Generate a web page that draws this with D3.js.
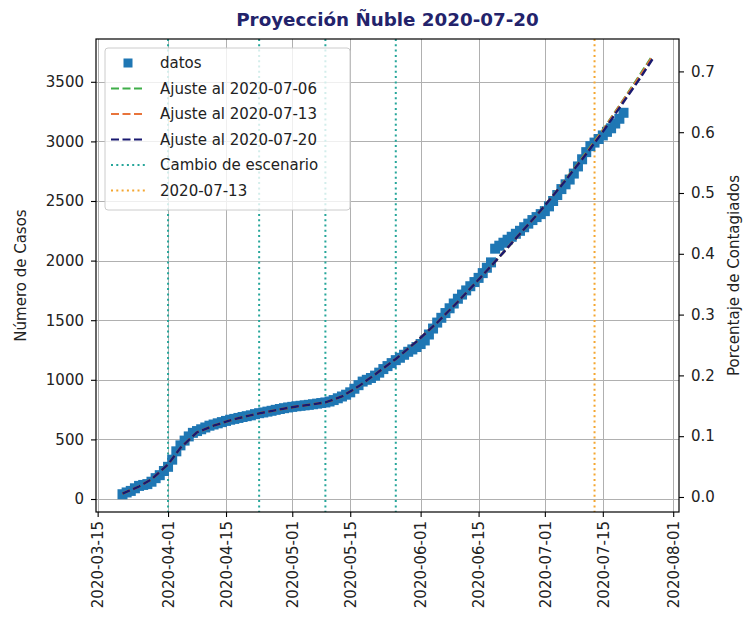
<!DOCTYPE html>
<html>
<head>
<meta charset="utf-8">
<script src="https://cdn.jsdelivr.net/npm/d3@7"></script>
<style>
  body { margin: 0; background: #fff; }
  svg { display: block; }
  text { font-family: "DejaVu Sans", sans-serif; fill: #222; }
</style>
</head>
<body>
<svg id="chart" width="744" height="633"></svg>
<script>
// casos diarios acumulados, uno por dia desde inicioDatos
var inicioDatos = "2020-03-21";
var casos = [
  40, 55, 68, 90, 110, 118, 125, 145, 175, 200, 235,          // 03-21 .. 03-31
  270, 330, 400, 450, 490, 525, 555, 570, 585, 600,           // 04-01 .. 04-10
  615, 625, 635, 645, 655, 665, 672, 680, 688, 695,           // 04-11 .. 04-20
  702, 712, 720, 726, 733, 740, 748, 755, 762, 768,           // 04-21 .. 04-30
  773, 778, 782, 786, 790, 795, 800, 805, 810, 818,           // 05-01 .. 05-10
  830, 845, 860, 875, 895, 925, 955, 985, 1000, 1015,         // 05-11 .. 05-20
  1035, 1060, 1090, 1115, 1140, 1165, 1185, 1210, 1235, 1255, 1275, // 05-21 .. 05-31
  1300, 1330, 1380, 1430, 1480, 1520, 1560, 1600, 1640, 1680, // 06-01 .. 06-10
  1715, 1750, 1785, 1820, 1855, 1895, 1940, 1985, 2100, 2125, // 06-11 .. 06-20
  2150, 2175, 2200, 2225, 2250, 2280, 2310, 2340, 2365, 2390, // 06-21 .. 06-30
  2415, 2455, 2500, 2550, 2600, 2640, 2680, 2730, 2790, 2850, // 07-01 .. 07-10
  2910, 2960, 2990, 3020, 3050, 3080, 3110, 3150, 3190, 3240  // 07-11 .. 07-20
];

var fitFechas = ["2020-03-21","2020-03-25","2020-03-28","2020-04-01","2020-04-04","2020-04-08",
  "2020-04-12","2020-04-16","2020-04-20","2020-04-23","2020-04-28","2020-05-02","2020-05-06",
  "2020-05-09","2020-05-13","2020-05-17","2020-05-21","2020-05-26","2020-05-31","2020-06-05",
  "2020-06-10","2020-06-15","2020-06-20","2020-06-25","2020-06-30","2020-07-05","2020-07-10",
  "2020-07-15","2020-07-20","2020-07-24","2020-07-27"];
var ajuste0706 = [45,105,165,290,430,560,615,660,695,718,752,776,795,810,860,945,1045,1175,1320,1480,
  1655,1840,2030,2225,2420,2635,2860,3095,3350,3560,3720];
var ajuste0713 = [45,105,165,290,430,560,615,660,695,718,752,776,795,810,860,945,1045,1175,1320,1480,
  1655,1840,2030,2225,2420,2632,2855,3090,3345,3550,3710];
var ajuste0720 = [45,105,165,290,430,560,615,660,695,718,752,776,795,810,860,945,1045,1175,1320,1480,
  1655,1840,2030,2225,2420,2630,2850,3080,3330,3530,3690];

var cambios = ["2020-04-01", "2020-04-23", "2020-05-09", "2020-05-26"];
var fechaCorte = "2020-07-13";

var xTicks = ["2020-03-15","2020-04-01","2020-04-15","2020-05-01","2020-05-15",
  "2020-06-01","2020-06-15","2020-07-01","2020-07-15","2020-08-01"];
var yTicks = [0, 500, 1000, 1500, 2000, 2500, 3000, 3500];
var pTicks = [0, 0.1, 0.2, 0.3, 0.4, 0.5, 0.6, 0.7];

var colores = {
  datos: "#1f77b4",
  a0706: "#3fae49",
  a0713: "#e8743b",
  a0720: "#191970",
  cambio: "#26a69a",
  corte: "#f4a630"
};

var parse = d3.timeParse("%Y-%m-%d");
var fmt = d3.timeFormat("%Y-%m-%d");

var svg = d3.select("#chart");
var L = 96, R = 679, T = 39, B = 512;

var x = d3.scaleTime()
  .domain([new Date(2020, 2, 14, 14, 24), new Date(2020, 7, 2, 9, 36)])
  .range([L, R]);
var y = d3.scaleLinear().domain([-109, 3859]).range([B, T]);
var y2 = d3.scaleLinear().domain([-0.0247, 0.7533]).range([B, T]);

var t0 = parse(inicioDatos);
var datos = casos.map(function(c, i) { return {fecha: d3.timeDay.offset(t0, i), casos: c}; });

// grid
var grid = svg.append("g").attr("stroke", "#b0b0b0").attr("stroke-width", 1);
xTicks.forEach(function(d) {
  var xx = Math.round(x(parse(d))) + 0.5;
  grid.append("line").attr("x1", xx).attr("x2", xx).attr("y1", T).attr("y2", B);
});
yTicks.forEach(function(v) {
  var yy = Math.round(y(v)) + 0.5;
  grid.append("line").attr("x1", L).attr("x2", R).attr("y1", yy).attr("y2", yy);
});

// lineas verticales
cambios.forEach(function(d) {
  svg.append("line")
    .attr("x1", x(parse(d))).attr("x2", x(parse(d)))
    .attr("y1", T).attr("y2", B)
    .attr("stroke", colores.cambio).attr("stroke-width", 2)
    .attr("stroke-dasharray", "2,3.3");
});
svg.append("line")
  .attr("x1", x(parse(fechaCorte))).attr("x2", x(parse(fechaCorte)))
  .attr("y1", T).attr("y2", B)
  .attr("stroke", colores.corte).attr("stroke-width", 2)
  .attr("stroke-dasharray", "2,3.3");

// datos
var ms = 10;
svg.append("g").selectAll("rect").data(datos).enter().append("rect")
  .attr("x", function(d) { return x(d.fecha) - ms / 2; })
  .attr("y", function(d) { return y(d.casos) - ms / 2; })
  .attr("width", ms).attr("height", ms)
  .attr("fill", colores.datos);

// ajustes
var line = d3.line()
  .x(function(d) { return x(d[0]); })
  .y(function(d) { return y(d[1]); });
[[ajuste0706, colores.a0706], [ajuste0713, colores.a0713], [ajuste0720, colores.a0720]].forEach(function(a) {
  var pts = fitFechas.map(function(f, i) { return [parse(f), a[0][i]]; });
  svg.append("path").datum(pts)
    .attr("d", line)
    .attr("fill", "none")
    .attr("stroke", a[1]).attr("stroke-width", 2.4)
    .attr("stroke-dasharray", "8,3.5");
});

// ejes
var ax = svg.append("g").attr("transform", "translate(0," + B + ")")
  .call(d3.axisBottom(x).tickValues(xTicks.map(parse)).tickFormat(fmt).tickSize(5).tickSizeOuter(0).tickPadding(0));
ax.selectAll("text")
  .attr("transform", "rotate(-90)")
  .attr("x", -9).attr("y", 0).attr("dy", "0.35em")
  .style("text-anchor", "end");

var ayl = svg.append("g").attr("transform", "translate(" + L + ",0)")
  .call(d3.axisLeft(y).tickValues(yTicks).tickFormat(d3.format("d")).tickSize(5).tickSizeOuter(0).tickPadding(7));
var ayr = svg.append("g").attr("transform", "translate(" + R + ",0)")
  .call(d3.axisRight(y2).tickValues(pTicks).tickFormat(d3.format(".1f")).tickSize(5).tickSizeOuter(0).tickPadding(7));

[ax, ayl, ayr].forEach(function(g) {
  g.select(".domain").remove();
  g.selectAll("line").attr("stroke", "#000").attr("stroke-width", 1.1);
  g.selectAll("text").style("font-size", "15px").style("font-family", "DejaVu Sans").attr("fill", "#222");
});

svg.append("rect").attr("x", L).attr("y", T).attr("width", R - L).attr("height", B - T)
  .attr("fill", "none").attr("stroke", "#000").attr("stroke-width", 1.2);

// titulos
svg.append("text").attr("x", (L + R) / 2).attr("y", 26)
  .attr("text-anchor", "middle")
  .style("font-size", "18.3px").style("font-weight", "bold")
  .style("fill", "#23236b")
  .text("Proyección Ñuble 2020-07-20");

svg.append("text")
  .attr("transform", "translate(25.5," + (T + B) / 2 + ") rotate(-90)")
  .attr("text-anchor", "middle").style("font-size", "15px")
  .text("Número de Casos");
svg.append("text")
  .attr("transform", "translate(738.5," + (T + B) / 2 + ") rotate(-90)")
  .attr("text-anchor", "middle").style("font-size", "15px")
  .text("Porcentaje de Contagiados");

// leyenda
var lg = svg.append("g");
lg.append("rect").attr("x", 105).attr("y", 48).attr("width", 245).attr("height", 162)
  .attr("rx", 3).attr("fill", "#fff").attr("fill-opacity", 0.8)
  .attr("stroke", "#cccccc").attr("stroke-width", 1);
var items = [
  {label: "datos", tipo: "marca", color: colores.datos},
  {label: "Ajuste al 2020-07-06", tipo: "guion", color: colores.a0706},
  {label: "Ajuste al 2020-07-13", tipo: "guion", color: colores.a0713},
  {label: "Ajuste al 2020-07-20", tipo: "guion", color: colores.a0720},
  {label: "Cambio de escenario", tipo: "punto", color: colores.cambio},
  {label: "2020-07-13", tipo: "punto", color: colores.corte}
];
items.forEach(function(it, i) {
  var cy = 63 + i * 25.5;
  if (it.tipo === "marca") {
    lg.append("rect").attr("x", 128 - 4.5).attr("y", cy - 4.5)
      .attr("width", 9).attr("height", 9).attr("fill", it.color);
  } else {
    lg.append("line").attr("x1", 111).attr("x2", 145).attr("y1", cy).attr("y2", cy)
      .attr("stroke", it.color).attr("stroke-width", 2.2)
      .attr("stroke-dasharray", it.tipo === "guion" ? "8,3.5" : "2,3.3");
  }
  lg.append("text").attr("x", 160).attr("y", cy).attr("dy", "0.35em")
    .style("font-size", "15px").text(it.label);
});
</script>
</body>
</html>
